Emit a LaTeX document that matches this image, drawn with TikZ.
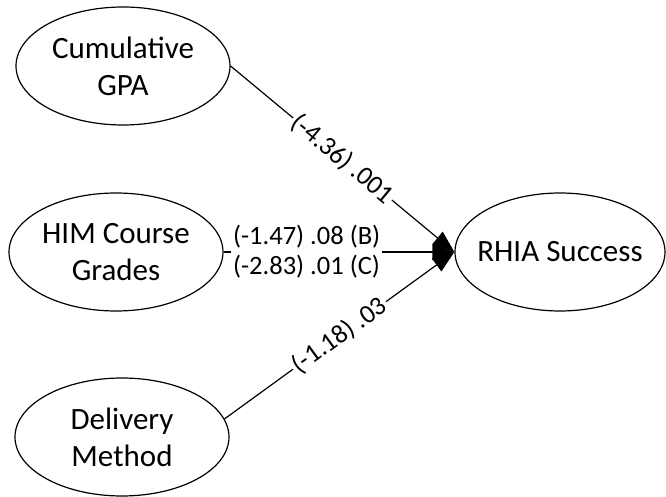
\documentclass[tikz,border=0pt]{standalone}
\usepackage{fontspec}
\setmainfont{Carlito}
\usetikzlibrary{shapes.geometric}
\usetikzlibrary{arrows.meta}

\begin{document}
\begin{tikzpicture}[x=0.5pt, y=-0.5pt,
		construct/.style={
			draw,
			ellipse,
			minimum width=107pt,
			minimum height=59pt,
			inner xsep=-15pt,
			inner ysep=0pt,
			align=center,
			line width=0.6pt,
			font=\fontsize{15.5}{18.5}\selectfont
		},
		link/.style={draw, line width=0.6pt, -{Triangle[length=11pt, width=8pt]}},
		coef/.style={fill=white, inner sep=1pt, align=left, font=\fontsize{13.25}{15}\selectfont}]
		\useasboundingbox (0,0) rectangle (666,497);
		
		\node at (123,66)[construct](gpa){Cumulative\\GPA};
		\node at (116,252)[construct](him){HIM Course\\Grades};
		\node at (122,437)[construct](dlv){Delivery\\Method};
		\node at (560,252)[construct, minimum width=105pt](rhia){RHIA Success};
		
		\draw[link] (gpa.east) -- node[coef, sloped, pos=0.5]{(-4.36) .001} (rhia.west);
		\draw[link] (him.east) -- node[coef, pos=0.36]{(-1.47) .08 (B)\\(-2.83) .01 (C)} (rhia.west);
		\draw[link] (dlv.10) -- node[coef, sloped, pos=0.5]{(-1.18) .03} (rhia.west);
	\end{tikzpicture}
\end{document}
